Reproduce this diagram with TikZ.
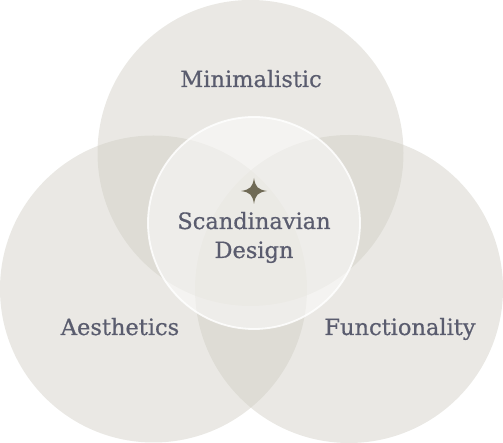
\documentclass[tikz,border=0pt]{standalone}
\usepackage{fontspec}
\setmainfont[FakeBold=0.6]{DejaVu Serif}
\definecolor{circfill}{HTML}{D0CDC3}
\definecolor{labeltext}{HTML}{5A5C6E}
\definecolor{starcol}{HTML}{6F6A55}
\tikzset{
  venn/.style={circle, fill=circfill, fill opacity=0.45, draw=none, inner sep=0pt},
  lbl/.style={text=labeltext, font=\fontsize{22.5}{26}\selectfont, anchor=base},
  core/.style={circle, fill=white, fill opacity=0.5, draw=white, draw opacity=0.85, line width=1.8pt, inner sep=0pt}
}
\begin{document}
\begin{tikzpicture}[x=1pt,y=1pt]
\useasboundingbox (0,0) rectangle (503,443);
\node[venn, minimum size=306pt] (top) at (250.5,290) {};
\node[venn, minimum size=307pt] (left) at (153.5,154) {};
\node[venn, minimum size=308pt] (right) at (349,154) {};
\node[core, minimum size=212pt] (center) at (254,220) {};
\fill[starcol] (254,265) .. controls (255.5,256) and (257.5,253.5) .. (267,252)
  .. controls (257.5,250.5) and (255.5,248) .. (254,239)
  .. controls (252.5,248) and (250.5,250.5) .. (241,252)
  .. controls (250.5,253.5) and (252.5,256) .. (254,265) -- cycle;
\node[lbl] (t1) at (254,214) {Scandinavian};
\node[lbl] (t2) at (254,185) {Design};
\node[lbl] (min) at (251,356) {Minimalistic};
\node[lbl] (aes) at (120,108) {Aesthetics};
\node[lbl] (fun) at (400,108) {Functionality};
\end{tikzpicture}
\end{document}
